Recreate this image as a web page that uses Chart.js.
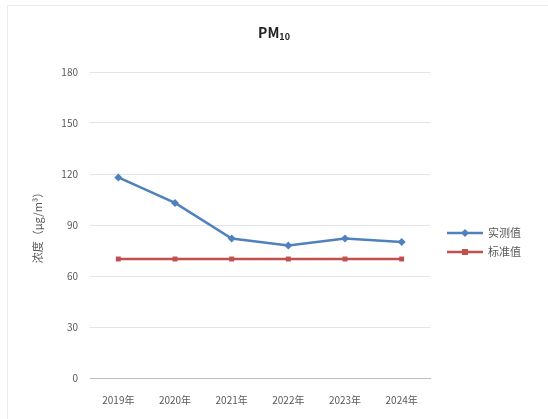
<!DOCTYPE html>
<html>
<head>
<meta charset="utf-8">
<script src="https://cdn.jsdelivr.net/npm/chart.js@4/dist/chart.umd.min.js"></script>
<style>
  html, body { margin: 0; padding: 0; background: #fff; }
  #wrap { width: 548px; height: 419px; position: relative; }
</style>
</head>
<body>
<div id="wrap"><canvas id="pm10"></canvas></div>
<script>
const years = ['2019年', '2020年', '2021年', '2022年', '2023年', '2024年'];
const measured = [118, 103, 82, 78, 82, 80];
const standard = [70, 70, 70, 70, 70, 70];
const yTicks = [0, 30, 60, 90, 120, 150, 180];

const FONT = '"Noto Sans CJK SC", "Liberation Sans", sans-serif';

// title, side legend and outer frame
const decorations = {
  id: 'decorations',
  afterDraw(chart) {
    const ctx = chart.ctx;
    ctx.save();

    // title "PM10" with a subscript
    ctx.fillStyle = '#222';
    ctx.textBaseline = 'alphabetic';
    ctx.font = 'bold 14px ' + FONT;
    const w1 = ctx.measureText('PM').width;
    ctx.font = 'bold 9px ' + FONT;
    const w2 = ctx.measureText('10').width;
    const x0 = 274 - (w1 + w2) / 2;
    ctx.font = 'bold 14px ' + FONT;
    ctx.fillText('PM', x0, 38);
    ctx.font = 'bold 9px ' + FONT;
    ctx.fillText('10', x0 + w1, 40);

    // legend on the right, line + marker
    const rows = [233, 252];
    chart.data.datasets.forEach((ds, i) => {
      const y = rows[i];
      ctx.strokeStyle = ds.borderColor;
      ctx.lineWidth = 2.5;
      ctx.beginPath();
      ctx.moveTo(447, y);
      ctx.lineTo(483, y);
      ctx.stroke();
      ctx.fillStyle = ds.borderColor;
      if (ds.pointStyle === 'rectRot') {
        ctx.beginPath();
        ctx.moveTo(465, y - 4);
        ctx.lineTo(469, y);
        ctx.lineTo(465, y + 4);
        ctx.lineTo(461, y);
        ctx.closePath();
        ctx.fill();
      } else {
        ctx.fillRect(462, y - 3, 6, 6);
      }
      ctx.fillStyle = '#595959';
      ctx.font = '11px ' + FONT;
      ctx.textBaseline = 'middle';
      ctx.fillText(ds.label, 488, y);
    });

    // chart area frame
    ctx.strokeStyle = '#ececec';
    ctx.lineWidth = 1;
    ctx.strokeRect(7.5, 5.5, 560, 440);
    ctx.restore();
  }
};

new Chart(document.getElementById('pm10'), {
  type: 'line',
  data: {
    labels: years,
    datasets: [
      {
        label: '实测值',
        data: measured,
        borderColor: '#4F81BD',
        backgroundColor: '#4F81BD',
        borderWidth: 2.5,
        pointStyle: 'rectRot',
        pointRadius: 4,
        pointBorderWidth: 0,
        tension: 0
      },
      {
        label: '标准值',
        data: standard,
        borderColor: '#C0504D',
        backgroundColor: '#C0504D',
        borderWidth: 2.5,
        pointStyle: 'rect',
        pointRadius: 3.5,
        pointBorderWidth: 0,
        tension: 0
      }
    ]
  },
  options: {
    responsive: true,
    maintainAspectRatio: false,
    animation: false,
    layout: { padding: { left: 27, right: 118, top: 72, bottom: 11 } },
    plugins: {
      legend: { display: false },
      tooltip: { enabled: false },
      title: { display: false }
    },
    scales: {
      x: {
        offset: true,
        afterFit: s => { s.height = 30; },
        grid: { display: false, drawTicks: false },
        border: { color: '#bfbfbf' },
        ticks: {
          color: '#595959',
          padding: 16,
          maxRotation: 0,
          font: { family: FONT, size: 10 }
        }
      },
      y: {
        min: 0,
        max: 180,
        afterFit: s => { s.width = 63; },
        afterBuildTicks: s => { s.ticks = yTicks.map(v => ({ value: v })); },
        grid: { color: '#e4e4e4', drawTicks: false },
        border: { display: false },
        ticks: {
          color: '#595959',
          padding: 12,
          font: { family: FONT, size: 10 }
        },
        title: {
          display: true,
          text: '浓度（μg/m³）',
          color: '#595959',
          padding: { top: 4 },
          font: { family: FONT, size: 11 }
        }
      }
    }
  },
  plugins: [decorations]
});
</script>
</body>
</html>
